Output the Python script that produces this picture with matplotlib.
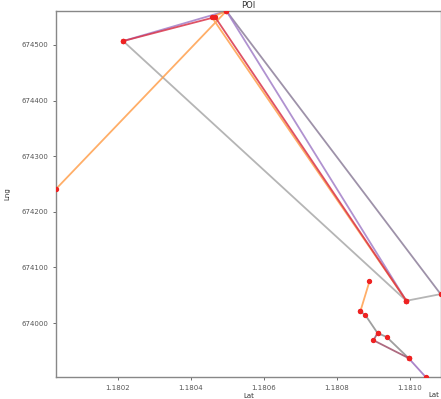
import matplotlib
matplotlib.use("Agg")
import matplotlib.pyplot as plt
import numpy as np

# POI tracks (lat, lng)
orange_lat = [1.180031, 1.180498, 1.180458, 1.180991]
orange_lng = [674241, 674561, 674550, 674040]

red_lat = [1.180215, 1.180467, 1.180991]
red_lng = [674507, 674550, 674040]

purple_lat = [1.180215, 1.180498, 1.180991]
purple_lng = [674507, 674561, 674040]

gray_lat = [1.180215, 1.180991, 1.181085]
gray_lng = [674507, 674040, 674052]

mauve_lat = [1.181085, 1.180498]
mauve_lng = [674052, 674561]

orange2_lat = [1.180890, 1.180865]
orange2_lng = [674075, 674021]

gray2_lat = [1.180865, 1.180879, 1.180912, 1.180937, 1.180997]
gray2_lng = [674021, 674014, 673982, 673975, 673937]

brown_lat = [1.180912, 1.180901, 1.180997]
brown_lng = [673982, 673969, 673937]

purple2_lat = [1.180997, 1.181044]
purple2_lng = [673937, 673903]

tracks = [
    (gray_lat, gray_lng, '#a8a8a8'),
    (mauve_lat, mauve_lng, '#8d7f9a'),
    (purple_lat, purple_lng, '#a27fc8'),
    (orange_lat, orange_lng, '#ffa04d'),
    (red_lat, red_lng, '#d9344a'),
    (orange2_lat, orange2_lng, '#ffa04d'),
    (gray2_lat, gray2_lng, '#8e8e8e'),
    (brown_lat, brown_lng, '#a0506a'),
    (purple2_lat, purple2_lng, '#9b6fc0'),
]

fig = plt.figure(figsize=(4.41, 3.99), dpi=100)
ax = fig.add_axes([56 / 441, 22 / 399, 385 / 441, 366 / 399])

all_lat, all_lng = [], []
for lat, lng, c in tracks:
    ax.plot(lat, lng, color=c, lw=1.3, alpha=0.85, zorder=2)
    all_lat += lat
    all_lng += lng

ax.scatter(all_lat, all_lng, s=8, color='#ee2222', zorder=3)

ax.margins(0)
ax.set_xlim(min(all_lat), max(all_lat) + 0.000001)
ax.set_ylim(min(all_lng), max(all_lng))

ax.set_xticks([1.1802, 1.1804, 1.1806, 1.1808, 1.1810])
ax.set_yticks([674000, 674100, 674200, 674300, 674400, 674500])
ax.ticklabel_format(useOffset=False, style='plain')
ax.xaxis.set_major_formatter(matplotlib.ticker.FormatStrFormatter('%.4f'))
ax.tick_params(labelsize=5, colors='#555555', length=2, width=0.6)

for s in ax.spines.values():
    s.set_color('#888888')
    s.set_linewidth(1.0)

ax.set_title('POI', fontsize=6, color='#333333', pad=2)
ax.set_xlabel('Lat', fontsize=5, color='#333333', labelpad=2)
ax.set_ylabel('Lng', fontsize=5, color='#333333', labelpad=8)
fig.text(428 / 441, 2 / 399, 'Lat', fontsize=5, color='#333333')

fig.savefig('out.png', dpi=100)
